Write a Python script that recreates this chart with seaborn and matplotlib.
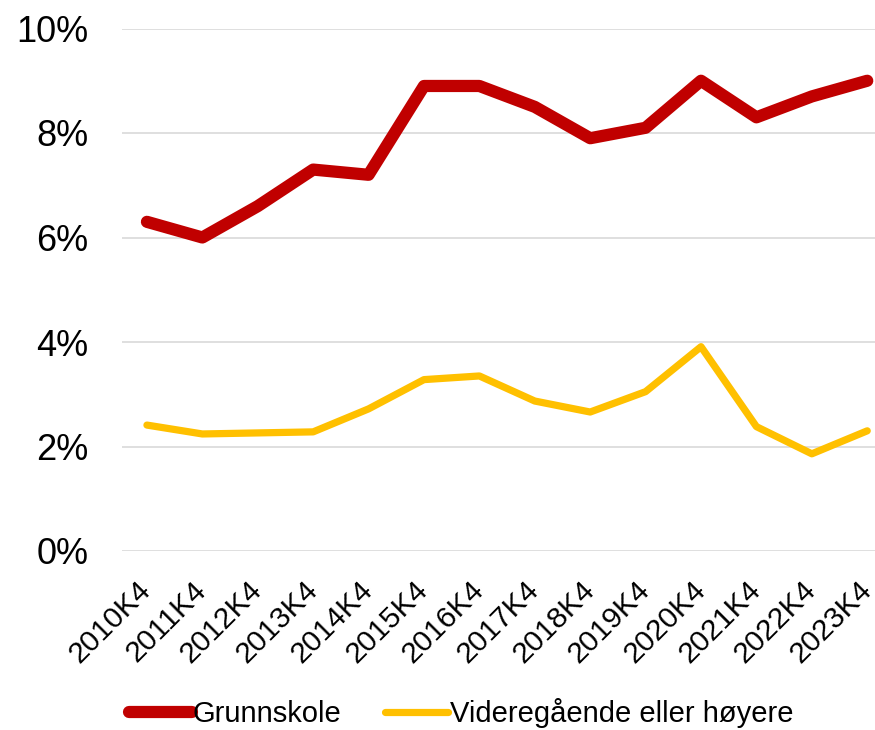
import matplotlib
matplotlib.use("Agg")
from matplotlib import pyplot as plt
from matplotlib.ticker import PercentFormatter
import pandas as pd
import seaborn as sns

quarters = ["2010K4", "2011K4", "2012K4", "2013K4", "2014K4", "2015K4", "2016K4",
            "2017K4", "2018K4", "2019K4", "2020K4", "2021K4", "2022K4", "2023K4"]
grunnskole = [6.3, 6.0, 6.6, 7.3, 7.2, 8.9, 8.9, 8.5, 7.9, 8.1, 9.0, 8.3, 8.7, 9.0]
videregaende = [2.41, 2.24, 2.26, 2.28, 2.72, 3.28, 3.35, 2.87, 2.66, 3.05, 3.91, 2.38, 1.86, 2.30]

series_names = ["Grunnskole", "Videregående eller høyere"]
colors = ["#C00000", "#FFC000"]
widths = [8.8, 5.2]

df = pd.DataFrame({
    "Kvartal": quarters * 2,
    "Andel": grunnskole + videregaende,
    "Gruppe": [series_names[0]] * len(quarters) + [series_names[1]] * len(quarters),
})

sns.set_style("white")
plt.rcParams["font.family"] = ["Liberation Sans", "DejaVu Sans"]
plt.rcParams["text.color"] = "black"
plt.rcParams["xtick.color"] = "black"
plt.rcParams["ytick.color"] = "black"

fig = plt.figure(figsize=(8.75, 7.3), dpi=100)
ax = fig.add_axes([122 / 875, 1 - 551 / 730, (875 - 122) / 875, (551 - 28.5) / 730])

for name, col, lw in zip(series_names, colors, widths):
    sns.lineplot(data=df[df["Gruppe"] == name], x="Kvartal", y="Andel", color=col,
                 linewidth=lw, solid_capstyle="round", solid_joinstyle="round",
                 label=name, ax=ax)

ax.set_ylim(0, 10)
ax.set_xlim(-0.45, 13.14)
ax.set_yticks([0, 2, 4, 6, 8, 10])
ax.yaxis.set_major_formatter(PercentFormatter(decimals=0))
ax.grid(axis="y", color="#D9D9D9", linewidth=1.2)
ax.set_axisbelow(True)
for s in ax.spines.values():
    s.set_visible(False)
ax.set_xlabel("")
ax.set_ylabel("")
ax.tick_params(axis="y", length=0, pad=24, labelsize=26)
ax.tick_params(axis="x", length=0, pad=25, labelsize=21.5)
plt.setp(ax.get_xticklabels(), rotation=45, ha="right", va="center", rotation_mode="anchor")

ax.legend(loc="center", bbox_to_anchor=(461 / 875, 1 - 713 / 730), bbox_transform=fig.transFigure,
          ncol=2, frameon=False, fontsize=21, handlelength=2.15, handletextpad=0.05,
          columnspacing=1.5, borderaxespad=0, borderpad=0)

plt.savefig("out.png", dpi=100)
